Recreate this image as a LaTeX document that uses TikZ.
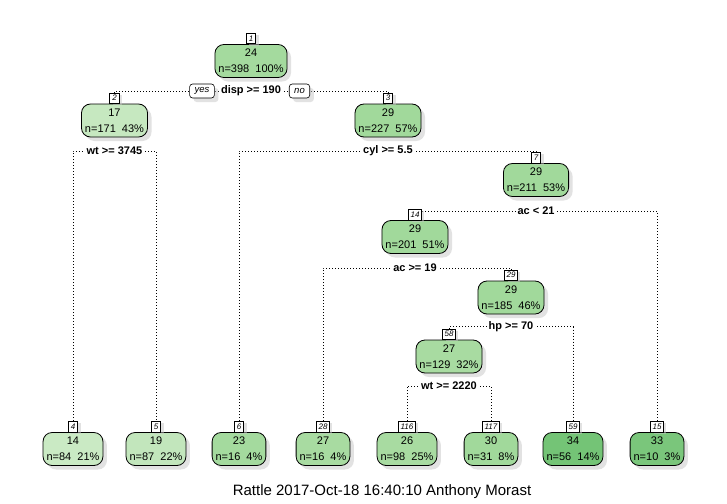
\documentclass[tikz,border=0pt]{standalone}
\usepackage{fontspec}
\setmainfont{Liberation Sans}
\usetikzlibrary{shadows,backgrounds}
\definecolor{gLa}{HTML}{CAEAC4}
\definecolor{gLb}{HTML}{C6E8C0}
\definecolor{gLc}{HTML}{C2E6BC}
\definecolor{gMa}{HTML}{A8DBA1}
\definecolor{gMb}{HTML}{A4DA9E}
\definecolor{gMc}{HTML}{A1D99B}
\definecolor{gDa}{HTML}{7AC67B}
\definecolor{gDb}{HTML}{74C476}
\tikzset{
  shad/.style={drop shadow={shadow xshift=4pt,shadow yshift=-4pt,fill=black!22,draw=none}},
  box/.style={draw=black, line width=0.8pt, rounded corners=9pt, minimum height=33pt,
    inner xsep=3.5pt, inner ysep=1pt, align=center, font=\fontsize{11}{16}\selectfont, shad},
  numbox/.style={draw=black, line width=0.6pt, fill=white, font=\fontsize{8}{8}\selectfont\itshape,
    inner xsep=2pt, inner ysep=0pt, minimum height=10.5pt, minimum width=9.5pt, anchor=south,
    drop shadow={shadow xshift=3pt,shadow yshift=-2pt,fill=black!22,draw=none}},
  split/.style={font=\fontsize{11}{11}\selectfont\bfseries, fill=white, inner xsep=2pt, inner ysep=1.5pt},
  yn/.style={draw=black, line width=0.6pt, rounded corners=3pt, fill=white,
    font=\fontsize{9.5}{9.5}\selectfont\itshape, minimum height=14pt, inner xsep=5pt, inner ysep=0pt, shad},
  conn/.style={line width=0.8pt, dash pattern=on 0.8pt off 2.2pt},
}
\begin{document}
\begin{tikzpicture}[x=1pt,y=-1pt]
\useasboundingbox (0,0) rectangle (727,503);
% internal nodes
\node[box, fill=gMb] (n1) at (251,61) {24\\n=398\ \ 100\%};
\node[numbox] (l1) at (n1.north) {1};
\node[box, fill=gLb] (n2) at (114.5,120.5) {17\\n=171\ \ 43\%};
\node[numbox] (l2) at (n2.north) {2};
\node[box, fill=gMc] (n3) at (388,120.5) {29\\n=227\ \ 57\%};
\node[numbox] (l3) at (n3.north) {3};
\node[box, fill=gMc] (n7) at (536,180) {29\\n=211\ \ 53\%};
\node[numbox] (l7) at (n7.north) {7};
\node[box, fill=gMc] (n14) at (415,237) {29\\n=201\ \ 51\%};
\node[numbox] (l14) at (n14.north) {14};
\node[box, fill=gMc] (n29) at (511,297.5) {29\\n=185\ \ 46\%};
\node[numbox] (l29) at (n29.north) {29};
\node[box, fill=gMa] (n58) at (449,356.5) {27\\n=129\ \ 32\%};
\node[numbox] (l58) at (n58.north) {58};
% leaves
\node[box, fill=gLa] (n4) at (73,449) {14\\n=84\ \ 21\%};
\node[numbox] (l4) at (n4.north) {4};
\node[box, fill=gLc] (n5) at (156,449) {19\\n=87\ \ 22\%};
\node[numbox] (l5) at (n5.north) {5};
\node[box, fill=gMb] (n6) at (239,449) {23\\n=16\ \ 4\%};
\node[numbox] (l6) at (n6.north) {6};
\node[box, fill=gMa] (n28) at (323,449) {27\\n=16\ \ 4\%};
\node[numbox] (l28) at (n28.north) {28};
\node[box, fill=gMa] (n116) at (407,449) {26\\n=98\ \ 25\%};
\node[numbox] (l116) at (n116.north) {116};
\node[box, fill=gMc] (n117) at (491,449) {30\\n=31\ \ 8\%};
\node[numbox] (l117) at (n117.north) {117};
\node[box, fill=gDb] (n59) at (573,449) {34\\n=56\ \ 14\%};
\node[numbox] (l59) at (n59.north) {59};
\node[box, fill=gDa] (n15) at (657,449) {33\\n=10\ \ 3\%};
\node[numbox] (l15) at (n15.north) {15};
% split labels
\node[split] (s1) at (251,91) {disp >= 190};
\node[yn] (yes) at (202,91) {yes};
\node[yn] (no) at (299.5,91) {no};
\node[split] (s2) at (114.5,151) {wt >= 3745};
\node[split] (s3) at (388,151) {cyl >= 5.5};
\node[split] (s7) at (536,211) {ac < 21};
\node[split] (s14) at (415,268) {ac >= 19};
\node[split] (s29) at (511,326.5) {hp >= 70};
\node[split] (s58) at (449,386) {wt >= 2220};
% title
\node[font=\fontsize{15}{18}\selectfont] (title) at (382,492) {Rattle 2017-Oct-18 16:40:10 Anthony Morast};
\begin{pgfonlayer}{background}
\fill[white] (0,0) rectangle (727,503);
\draw[conn] (l2.north) |- (l3.north |- s1) -- (l3.north);
\draw[conn] (l4.north) |- (l5.north |- s2) -- (l5.north);
\draw[conn] (l6.north) |- (l7.north |- s3) -- (l7.north);
\draw[conn] (l14.north) |- (l15.north |- s7) -- (l15.north);
\draw[conn] (l28.north) |- (l29.north |- s14) -- (l29.north);
\draw[conn] (l58.north) |- (l59.north |- s29) -- (l59.north);
\draw[conn] (l116.north) |- (l117.north |- s58) -- (l117.north);
\end{pgfonlayer}
\end{tikzpicture}
\end{document}
